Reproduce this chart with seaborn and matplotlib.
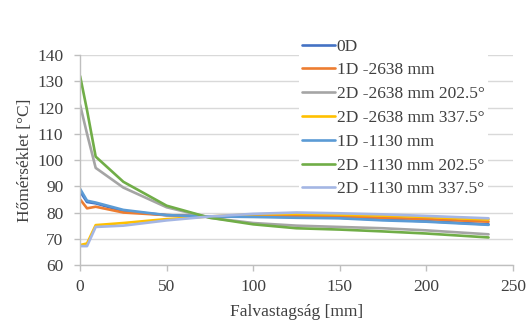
import matplotlib
matplotlib.use("Agg")
import matplotlib.pyplot as plt
import seaborn as sns
import pandas as pd

x_mm = [0, 4, 9, 25, 50, 75, 100, 125, 150, 175, 200, 236]
series_names = ["0D", "1D -2638 mm", "2D -2638 mm 202.5°", "2D -2638 mm 337.5°",
                "1D -1130 mm", "2D -1130 mm 202.5°", "2D -1130 mm 337.5°"]
s_0d = [88, 84, 83.5, 80.5, 79, 78.5, 78.5, 78.3, 78, 77.3, 76.7, 75.5]
s_1d_2638 = [85, 81.6, 82.2, 80, 79, 78.5, 78.8, 78.8, 78.5, 78, 77.5, 76.5]
s_2d_2638_202 = [121, 110, 97, 89.5, 82, 78, 76, 75, 74.5, 74, 73.2, 71.7]
s_2d_2638_337 = [67.6, 68.2, 75.2, 76, 77.5, 78.5, 79.3, 79.5, 79.2, 78.8, 78.3, 77.3]
s_1d_1130 = [89, 84.5, 83.8, 81, 79, 78.5, 78.3, 78, 77.8, 77, 76.5, 75.3]
s_2d_1130_202 = [132, 119, 101.3, 91.7, 82.6, 78, 75.5, 74, 73.5, 72.8, 72, 70.5]
s_2d_1130_337 = [67.2, 67.2, 74.5, 75, 77, 78.5, 79.5, 80, 79.7, 79.3, 78.7, 77.8]
series_values = [s_0d, s_1d_2638, s_2d_2638_202, s_2d_2638_337,
                 s_1d_1130, s_2d_1130_202, s_2d_1130_337]
x_ticks = [0, 50, 100, 150, 200, 250]
y_ticks = [60, 70, 80, 90, 100, 110, 120, 130, 140]

rows = []
for name, vals in zip(series_names, series_values):
    for xv, yv in zip(x_mm, vals):
        rows.append({"x": xv, "y": yv, "series": name})
df = pd.DataFrame(rows)

colors = ["#4472C4", "#ED7D31", "#A5A5A5", "#FFC000", "#5B9BD5", "#70AD47", "#A4B6E4"]

sns.set_theme(style="white")
plt.rcParams["font.family"] = ["Liberation Serif", "DejaVu Serif"]

FS = 12.5
fig = plt.figure(figsize=(5.27, 3.22), dpi=100)
ax = fig.add_axes([0.152, 0.177, 0.821, 0.652])

sns.lineplot(data=df, x="x", y="y", hue="series", hue_order=series_names,
             palette=colors, linewidth=1.9, ax=ax, legend=True, sort=False)

ax.set_xlim(0, 250)
ax.set_ylim(60, 140)
ax.set_xticks(x_ticks)
ax.set_yticks(y_ticks)
ax.yaxis.grid(True, color="#D9D9D9", linewidth=1.0)
ax.xaxis.grid(False)
ax.set_axisbelow(True)
for side in ["top", "right"]:
    ax.spines[side].set_visible(False)
for side in ["left", "bottom"]:
    ax.spines[side].set_color("#BFBFBF")
    ax.spines[side].set_linewidth(1.0)
ax.tick_params(axis="both", labelsize=FS, colors="#404040", length=4,
               width=1.0, direction="out", color="#BFBFBF")
ax.tick_params(axis="x", bottom=True, pad=6)
ax.tick_params(axis="y", left=True, pad=8)
ax.set_xlabel("Falvastagság [mm]", fontsize=FS, color="#404040", labelpad=6.5)
ax.set_ylabel("Hőmérséklet [°C]", fontsize=FS, color="#404040", labelpad=3)

handles, labels = ax.get_legend_handles_labels()
ax.legend(handles, labels, loc="upper left",
          bbox_to_anchor=(299 / 527, 1 - 35 / 322), bbox_transform=fig.transFigure,
          frameon=True, facecolor="white", edgecolor="none", framealpha=1.0,
          fontsize=FS, handlelength=1.85, handletextpad=0.12,
          labelspacing=0.44, borderpad=0.2, borderaxespad=0, labelcolor="#404040")

fig.savefig("out.png", dpi=100)
